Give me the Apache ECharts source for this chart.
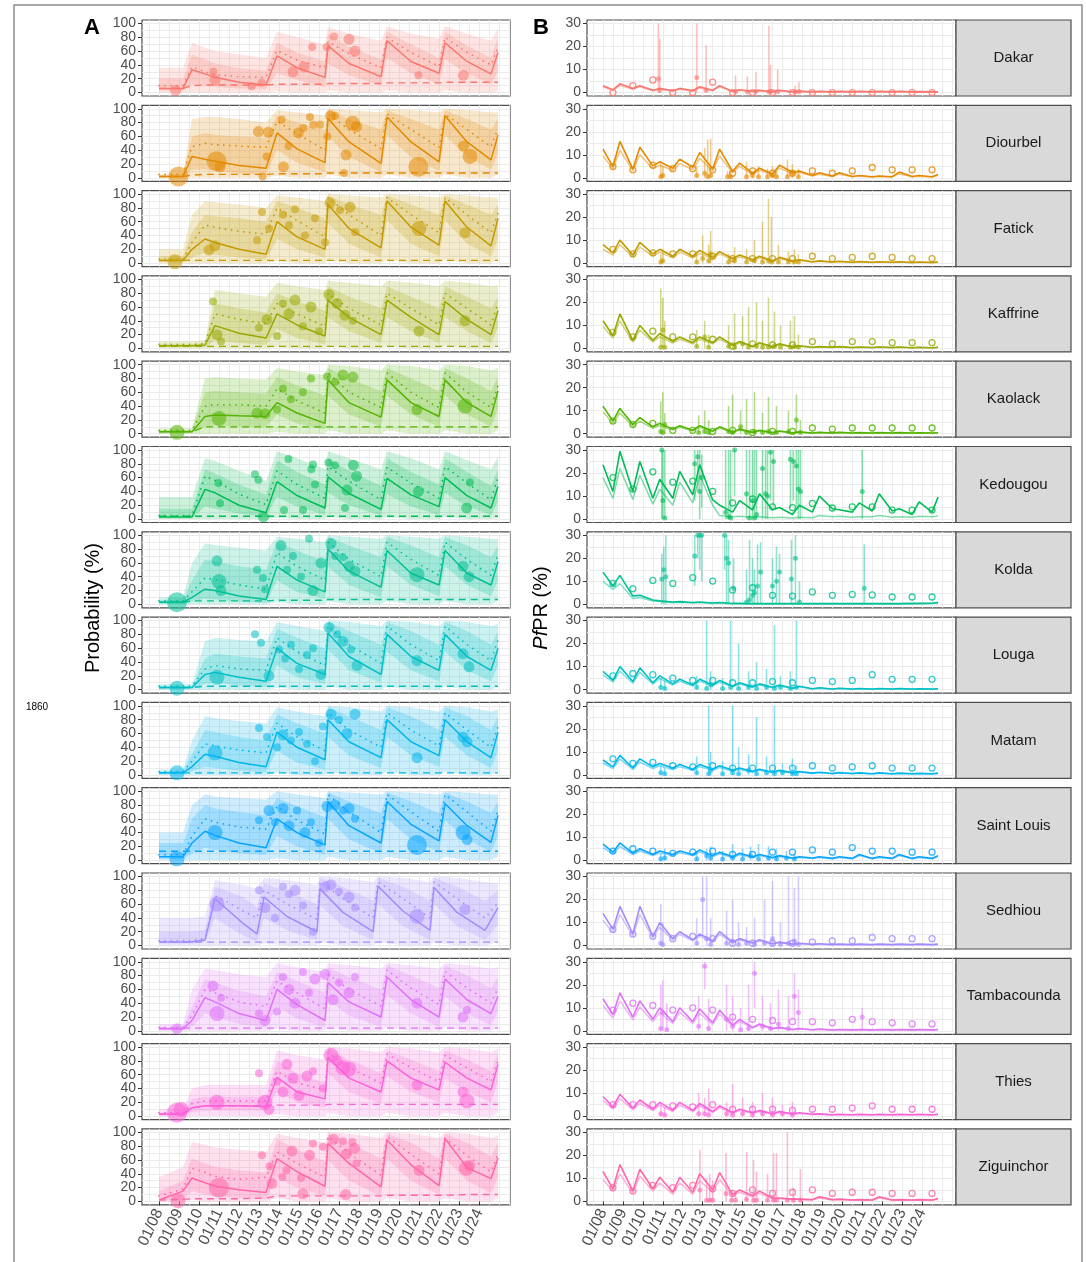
<!DOCTYPE html>
<html><head><meta charset="utf-8">
<script src="https://cdn.jsdelivr.net/npm/echarts@6/dist/echarts.min.js"></script>
<style>html,body{margin:0;padding:0;background:#fff}#c{width:1086px;height:1262px}</style>
</head><body><div id="c"></div>
<script>
const regions = ['Dakar','Diourbel','Fatick','Kaffrine','Kaolack','Kedougou','Kolda','Louga','Matam','Saint Louis','Sedhiou','Tambacounda','Thies','Ziguinchor'];
const palette = ['#F8766D','#E38900','#C49A00','#99A800','#53B400','#00BC56','#00C094','#00BFC4','#00B6EB','#06A4FF','#A58AFF','#DF70F8','#FB61D7','#FF66A8'];

const tickYears = [2008,2009,2010,2011,2012,2013,2014,2015,2016,2017,2018,2019,2020,2021,2022,2023,2024];
const gridYears = [2007.5,2008,2008.5,2009,2009.5,2010,2010.5,2011,2011.5,2012,2012.5,2013,2013.5,2014,2014.5,2015,2015.5,2016,2016.5,2017,2017.5,2018,2018.5,2019,2019.5,2020,2020.5,2021,2021.5,2022,2022.5,2023,2023.5,2024,2024.5,2025,2025.5];
const leftYTicks = [0,20,40,60,80,100];
const leftYGrid = [0,10,20,30,40,50,60,70,80,90,100];
const rightYTicks = [0,10,20,30];
const rightYGrid = [0,5,10,15,20,25,30];

// ---------- Panel A (probability) ----------
const leftT = [2008.0,2009.2,2009.65,2010.3,2010.8,2012.0,2013.35,2013.9,2014.9,2016.3,2016.45,2017.5,2019.1,2019.4,2020.6,2022.0,2022.3,2023.4,2024.6,2024.95];
const sedhiouT = [2008.0,2009.6,2010.3,2010.8,2011.3,2012.2,2012.9,2013.25,2014.4,2015.9,2016.05,2017.2,2018.7,2018.95,2020.2,2021.55,2021.75,2022.9,2024.3,2024.95];
const leftTimes = [leftT,leftT,leftT,leftT,leftT,leftT,leftT,leftT,leftT,leftT,sedhiouT,leftT,leftT,leftT];

const leftSolid = [
 [6,6,33,27,22,15,11,53,36,22,68,42,23,75,45,28,72,45,27,58],
 [2,2,31,27,24,18,14,65,42,22,86,52,21,88,52,23,90,52,26,62],
 [4,4,20,35,30,20,13,60,38,20,85,50,22,90,52,26,90,52,25,65],
 [4,4,4,5,33,22,15,50,34,18,70,45,20,70,45,20,68,42,20,55],
 [3,3,3,25,27,26,25,45,30,15,78,45,24,78,45,25,78,45,25,62],
 [3,3,3,43,38,20,9,54,34,16,61,37,14,59,35,18,60,34,16,47],
 [3,3,10,22,20,12,7,55,35,18,80,48,25,78,45,28,78,45,28,62],
 [3,3,3,22,25,18,12,60,38,22,82,48,22,80,48,28,80,48,28,60],
 [3,3,12,30,27,18,12,62,40,22,80,48,25,80,48,28,80,48,25,62],
 [5,5,25,42,36,25,18,60,40,22,85,50,25,85,52,28,82,50,26,65],
 [5,5,8,68,55,32,17,70,42,20,82,48,20,86,50,22,84,48,22,55],
 [3,3,15,48,42,25,15,60,38,15,70,42,20,78,45,20,75,45,25,50],
 [3,3,12,15,15,15,14,56,35,25,85,55,35,80,55,38,78,55,38,75],
 [2,15,34,27,22,17,13,62,43,22,84,55,21,89,53,23,91,49,33,63]
];
const leftDotted = [
 [10,10,37,30,26,23,22,61,47,36,74,56,36,80,58,38,80,58,40,65],
 [5,5,45,50,48,46,44,82,64,40,92,70,42,92,70,44,92,70,45,72],
 [6,6,30,55,52,46,42,80,62,38,95,70,40,95,70,44,95,70,44,72],
 [6,6,6,7,50,42,36,65,50,32,80,58,34,80,58,34,80,58,34,65],
 [5,5,5,40,42,42,40,65,48,30,88,60,38,88,60,38,88,60,38,70],
 [5,5,5,62,56,36,21,70,50,30,76,55,28,75,52,30,76,52,28,60],
 [5,5,18,38,36,28,22,75,55,35,90,65,40,90,65,42,90,65,42,72],
 [5,5,5,30,35,30,28,75,55,35,92,65,38,92,65,42,92,65,42,72],
 [5,5,20,45,42,36,32,75,55,35,90,65,40,90,65,42,90,65,40,70],
 [8,8,35,60,55,48,45,78,58,38,95,70,40,95,70,42,95,70,42,72],
 [7,7,10,72,65,50,40,80,60,38,92,68,40,92,68,40,92,68,40,62],
 [5,5,22,60,55,42,35,72,55,32,82,60,36,88,62,38,86,62,40,62],
 [5,5,18,22,22,22,22,65,48,38,92,70,48,90,70,50,88,70,50,80],
 [8,18,48,42,36,32,35,72,55,35,94,70,38,94,68,40,92,66,43,69]
];
const leftDashed = [
 [6,6,10,11,11,11,11,12,12,12,13,13,13,14,14,14,15,15,15,15],
 [2,2,4,5,5,5,5,6,6,6,7,7,7,7,7,7,7,7,7,7],
 [4,4,4,4,4,4,4,4,4,4,4,4,4,4,4,4,4,4,4,4],
 [3,3,3,3,3,3,3,3,3,3,3,3,3,3,3,3,3,3,3,3],
 [3,3,3,10,10,10,10,10,10,10,10,10,10,10,10,10,10,10,10,10],
 [4,4,4,4,4,4,4,4,4,4,4,4,4,4,4,4,4,4,4,4],
 [3,3,5,5,5,5,5,6,6,6,7,7,7,7,7,7,7,7,7,7],
 [3,3,3,5,5,5,5,5,5,5,5,5,5,5,5,5,5,5,5,5],
 [3,3,3,3,3,3,3,3,3,3,3,3,3,3,3,3,3,3,3,3],
 [13,13,13,13,13,13,13,13,13,13,13,13,13,13,13,13,13,13,13,13],
 [5,5,5,5,5,5,5,5,5,5,5,5,5,5,5,5,5,5,5,5],
 [4,4,4,4,4,4,4,4,4,4,4,4,4,4,4,4,4,4,4,4],
 [3,3,12,15,15,15,15,16,16,16,17,17,17,17,17,17,17,17,17,17],
 [2,3,4,4,4,4,5,8,8,8,8,8,8,9,9,9,9,10,10,10]
];
const outerLo = [
 [0,0,0,0,0,0,0,2,0,0,3,0,0,3,0,0,3,0,0,2],
 [0,0,0,0,0,0,0,3,0,0,5,0,0,5,0,0,5,0,0,5],
 [0,0,0,0,0,0,0,3,0,0,5,0,0,5,0,0,5,0,0,5],
 [0,0,0,0,0,0,0,2,0,0,3,0,0,3,0,0,3,0,0,3],
 [0,0,0,0,0,0,0,3,0,0,5,0,0,5,0,0,5,0,0,5],
 [0,0,0,0,0,0,0,2,0,0,3,0,0,3,0,0,3,0,0,2],
 [0,0,0,0,0,0,0,3,0,0,5,0,0,5,0,0,5,0,0,5],
 [0,0,0,0,0,0,0,3,0,0,5,0,0,5,0,0,5,0,0,5],
 [0,0,0,0,0,0,0,3,0,0,5,0,0,5,0,0,5,0,0,5],
 [0,0,0,0,0,0,0,3,0,0,5,0,0,5,0,0,5,0,0,5],
 [0,0,0,0,0,0,0,3,0,0,5,0,0,5,0,0,5,0,0,5],
 [0,0,0,0,0,0,0,3,0,0,5,0,0,5,0,0,5,0,0,5],
 [0,0,0,0,0,0,0,3,0,0,5,0,0,5,0,0,5,0,0,5],
 [0,0,2,0,0,0,0,5,0,0,5,0,0,5,0,0,5,0,0,5]
];
const outerHi = [
 [36,36,72,65,60,55,50,88,80,70,95,85,75,96,85,78,96,85,75,93],
 [5,5,85,88,88,85,80,98,95,90,100,98,95,100,98,95,100,98,95,95],
 [20,20,70,90,88,85,80,98,95,90,100,98,95,100,98,95,100,98,95,95],
 [10,10,10,12,85,80,75,95,90,85,98,95,90,98,95,90,98,95,90,92],
 [8,8,8,80,82,80,78,95,90,85,100,98,92,100,98,92,100,98,92,95],
 [32,32,32,88,84,70,55,98,88,72,98,88,72,98,88,72,98,85,72,90],
 [10,10,60,88,86,82,78,98,95,90,100,98,95,100,98,95,100,98,95,95],
 [8,8,8,70,75,72,70,98,92,85,100,98,92,100,98,92,100,98,92,95],
 [8,8,50,85,82,78,75,98,92,85,100,98,92,100,98,92,100,98,92,95],
 [40,40,80,95,92,90,88,100,95,90,100,98,95,100,98,95,100,98,95,95],
 [40,40,42,95,92,88,82,98,95,88,100,98,92,100,98,92,100,98,92,90],
 [10,10,60,90,88,82,78,98,92,85,98,95,90,98,95,90,98,95,90,92],
 [10,10,40,45,45,45,45,95,88,82,100,98,92,100,98,92,100,98,92,98],
 [35,50,86,82,78,75,72,98,92,85,100,98,92,100,98,92,100,98,92,95]
];
const innerLo = [
 [3,3,12,10,8,6,5,28,18,8,42,25,10,50,28,12,48,28,12,30],
 [1,1,12,12,10,6,5,40,22,8,60,30,8,62,30,10,62,30,12,35],
 [2,2,8,15,12,8,5,35,20,8,58,28,8,62,28,10,62,28,10,35],
 [2,2,2,2,12,8,5,28,15,6,45,25,8,45,25,8,45,25,8,30],
 [1,1,1,10,12,10,10,28,15,6,55,28,10,55,28,10,55,28,10,35],
 [1,1,1,18,15,8,3,32,18,6,38,20,5,36,18,6,38,18,6,25],
 [1,1,4,8,7,4,2,35,18,8,55,28,10,55,28,12,55,28,12,35],
 [1,1,1,8,10,6,4,35,18,8,58,28,10,55,28,12,55,28,12,35],
 [1,1,5,12,10,6,4,35,18,8,55,28,10,55,28,12,55,28,10,35],
 [2,2,10,18,15,10,8,35,20,8,60,30,10,60,30,12,58,30,12,35],
 [3,3,5,40,30,15,5,40,22,8,58,28,8,60,28,8,60,28,8,30],
 [1,1,5,25,20,10,5,35,18,5,45,22,6,52,25,6,50,25,8,28],
 [1,1,6,8,8,8,8,35,20,12,62,35,18,58,35,20,55,35,20,50],
 [1,3,15,10,8,5,3,35,20,8,60,30,8,62,30,10,62,30,12,35]
];
const innerHi = [
 [20,20,55,48,42,35,32,72,58,45,85,66,48,88,70,50,88,68,50,80],
 [3,3,60,65,62,60,58,90,80,68,98,85,70,98,85,70,98,85,70,85],
 [10,10,45,70,68,65,60,90,80,65,98,85,70,98,85,70,98,85,70,85],
 [6,6,6,8,65,58,52,80,68,55,90,75,58,90,75,58,90,75,58,75],
 [5,5,5,60,62,60,58,82,70,55,95,80,62,95,80,62,95,80,62,82],
 [15,15,15,72,66,50,35,85,68,50,88,70,48,88,68,50,88,68,48,72],
 [6,6,35,65,62,55,50,90,78,62,98,85,68,98,85,68,98,85,68,85],
 [5,5,5,45,52,48,45,88,75,60,98,85,65,98,85,65,98,85,65,85],
 [5,5,30,65,62,55,50,88,75,60,98,85,65,98,85,65,98,85,65,85],
 [25,25,60,80,75,70,65,90,78,62,98,85,68,98,85,68,98,85,68,85],
 [20,20,22,85,80,70,55,90,78,60,98,85,65,98,85,65,98,85,65,80],
 [5,5,35,75,70,58,50,85,72,55,92,78,60,95,80,62,95,80,62,78],
 [5,5,25,28,28,28,28,80,62,48,98,82,62,95,82,65,95,82,65,92],
 [15,30,62,55,50,45,42,90,75,58,98,85,62,98,85,62,98,85,65,85]
];
// survey bubbles: [year, probability %, size class]
const bubbles = [
 [[2008.83,3,3],[2010.72,30,2],[2010.8,18,3],[2012.63,9,2],[2013.13,14,2],[2014.7,30,3],[2015.25,37,3],[2015.66,66,2],[2016.38,66,2],[2016.75,81,2],[2017.5,77,3],[2017.8,60,3],[2020.97,25,2],[2023.22,25,3]],
 [[2008.97,2,5],[2010.88,24,5],[2011.05,16,3],[2012.97,67,3],[2013.47,66,3],[2013.18,2,2],[2013.38,31,2],[2014.13,84,2],[2014.22,16,3],[2014.47,46,2],[2014.97,65,3],[2015.22,72,2],[2015.55,88,2],[2015.72,77,2],[2016.05,77,2],[2016.42,60,2],[2016.58,90,3],[2016.8,90,2],[2017.35,33,3],[2017.25,7,2],[2017.68,79,4],[2017.88,74,3],[2020.97,16,5],[2023.22,46,3],[2023.55,31,4]],
 [[2008.8,2,4],[2010.5,19,3],[2010.8,25,3],[2012.9,33,2],[2013.15,74,2],[2013.5,50,2],[2014.2,70,2],[2014.5,55,2],[2014.8,78,2],[2015.3,40,2],[2015.8,65,2],[2016.3,30,2],[2016.55,87,3],[2017.05,77,2],[2017.55,81,3],[2017.8,45,2],[2021.0,50,4],[2023.3,44,3]],
 [[2010.7,68,2],[2010.9,20,3],[2011.1,10,2],[2013.0,30,2],[2013.4,42,3],[2013.9,18,2],[2014.2,65,2],[2014.5,50,3],[2014.8,70,3],[2015.2,32,2],[2015.6,60,3],[2016.0,25,2],[2016.5,78,3],[2016.9,65,3],[2017.3,48,3],[2017.7,40,2],[2021.0,25,3],[2023.3,40,3]],
 [[2008.9,2,4],[2011.0,22,4],[2012.9,30,3],[2013.3,29,3],[2013.9,35,2],[2014.2,65,2],[2014.6,50,2],[2015.2,60,2],[2015.6,80,2],[2016.4,83,2],[2016.8,75,2],[2017.2,85,3],[2017.7,82,3],[2020.9,35,3],[2023.3,40,4]],
 [[2010.97,52,2],[2011.05,23,2],[2012.8,65,2],[2012.97,57,2],[2013.22,3,3],[2014.25,13,2],[2014.47,87,2],[2015.2,13,2],[2015.62,72,2],[2015.7,79,2],[2015.8,50,2],[2016.47,82,2],[2016.8,78,2],[2017.72,78,3],[2017.88,62,3],[2017.4,42,3],[2017.3,16,2],[2020.97,40,3],[2023.55,53,2],[2023.38,16,3]],
 [[2008.9,3,5],[2010.9,63,3],[2011.0,33,4],[2011.1,20,3],[2012.9,50,2],[2013.2,38,2],[2013.3,22,2],[2014.1,85,3],[2014.4,50,2],[2014.7,70,2],[2015.1,40,2],[2015.5,95,2],[2015.7,20,3],[2016.1,60,3],[2016.6,88,3],[2016.8,70,2],[2017.2,68,2],[2017.5,55,3],[2017.8,48,3],[2020.9,43,4],[2023.2,55,3],[2023.5,40,3]],
 [[2008.9,2,4],[2010.9,18,4],[2012.8,80,2],[2013.1,68,2],[2013.5,20,3],[2014.0,58,2],[2014.3,45,2],[2014.6,65,2],[2015.0,30,2],[2015.4,50,2],[2015.7,60,2],[2016.1,22,3],[2016.5,90,3],[2016.9,80,2],[2017.2,70,3],[2017.6,58,2],[2017.9,35,3],[2020.9,42,3],[2023.2,52,3],[2023.5,33,3]],
 [[2008.9,3,4],[2010.8,32,4],[2013.0,68,2],[2013.4,55,2],[2013.9,40,2],[2014.2,58,3],[2014.6,50,2],[2015.0,62,2],[2015.4,45,2],[2015.8,20,2],[2016.2,70,2],[2016.6,88,3],[2017.0,80,2],[2017.4,60,3],[2017.8,88,3],[2020.9,25,3],[2023.2,55,3],[2023.4,48,3]],
 [[2008.9,2,4],[2010.8,40,4],[2013.0,58,2],[2013.5,72,3],[2013.8,55,2],[2014.2,75,3],[2014.5,50,3],[2014.9,72,2],[2015.3,40,3],[2015.6,55,2],[2016.0,25,2],[2016.4,78,3],[2016.8,80,3],[2017.2,72,2],[2017.5,75,3],[2017.8,60,2],[2020.9,22,5],[2023.2,40,4],[2023.4,30,3]],
 [[2010.9,60,4],[2013.0,80,2],[2013.3,55,3],[2013.8,40,2],[2014.2,85,2],[2014.5,75,2],[2014.8,80,3],[2015.2,58,2],[2015.7,20,2],[2016.3,85,3],[2016.6,88,3],[2017.0,78,2],[2017.5,70,3],[2017.8,55,2],[2020.9,42,4],[2023.3,52,3]],
 [[2008.9,3,3],[2010.7,65,3],[2010.9,25,4],[2011.1,48,2],[2013.0,25,2],[2013.3,15,3],[2013.9,28,2],[2014.2,78,2],[2014.5,60,3],[2014.8,40,3],[2015.2,85,2],[2015.5,55,2],[2015.8,75,3],[2016.3,82,3],[2016.7,45,3],[2017.0,70,2],[2017.5,55,3],[2017.8,78,2],[2020.9,40,3],[2023.2,20,3],[2023.4,30,2]],
 [[2008.9,5,5],[2009.1,10,4],[2010.9,20,4],[2013.0,62,2],[2013.3,20,4],[2013.5,10,3],[2013.9,50,2],[2014.2,35,3],[2014.4,75,3],[2014.7,55,3],[2015.0,30,3],[2015.4,58,3],[2015.7,65,2],[2016.2,40,2],[2016.6,88,4],[2016.9,80,3],[2017.2,70,4],[2017.5,68,4],[2020.9,45,3],[2023.2,35,3],[2023.4,22,4]],
 [[2008.95,1,4],[2011.0,20,5],[2013.15,67,2],[2013.53,51,2],[2013.65,26,3],[2014.17,35,2],[2014.37,45,2],[2014.65,73,3],[2015.1,34,2],[2015.53,67,3],[2015.7,84,2],[2015.2,11,3],[2016.2,79,2],[2016.73,90,3],[2017.2,87,2],[2017.37,69,3],[2017.33,10,3],[2017.67,86,2],[2017.78,77,3],[2017.87,55,2],[2021.0,45,3],[2023.37,48,4],[2023.53,52,3]]
];

// ---------- Panel B (PfPR) ----------
const rightT = [2008.0,2008.5,2008.85,2009.5,2009.85,2010.5,2010.85,2011.5,2011.85,2012.5,2012.85,2013.5,2013.85,2014.5,2014.85,2015.5,2015.85,2016.5,2016.85,2017.5,2017.85,2018.5,2018.85,2019.5,2019.85,2020.5,2020.85,2021.5,2021.85,2022.5,2022.85,2023.5,2023.85,2024.5,2024.8];
const rightDark = [
 [3,1.2,3.8,1.8,3,1,1.8,0.8,1.8,0.8,2.5,1,3,0.5,1.2,0.5,1,0.3,1,0.3,0.6,0.3,0.5,0.3,0.5,0.3,0.5,0.3,0.5,0.3,0.5,0.3,0.4,0.3,0.3],
 [12.5,4.9,15.8,3.8,13.3,5.2,7,4.2,8.1,4.6,11,3.8,12.5,2.8,6.4,2,4.2,1.7,5.5,2.4,3,1,2.2,0.8,2.2,0.6,1,0.5,0.8,0.5,2.5,0.6,1,0.5,1.5],
 [8,4.5,10,3.5,9,4,6,3,6,3,5.5,2.5,5,2,3.5,1.5,3,1,2.5,1,1.5,0.6,1,0.5,0.8,0.4,0.7,0.4,0.6,0.4,0.6,0.3,0.5,0.3,0.5],
 [12,5.5,15,3.5,10,3.5,6.5,3,5,2.5,5,2.5,5,1.5,3,1,2.5,0.8,2,0.6,1.2,0.5,0.8,0.5,0.8,0.4,0.6,0.4,0.6,0.4,0.6,0.3,0.5,0.3,0.5],
 [12,5.5,11,4,7,3,4.5,2,3.5,1.5,3.5,1.2,3,0.8,2,0.6,1.5,0.5,1.2,0.4,0.8,0.3,0.6,0.3,0.6,0.3,0.5,0.3,0.5,0.3,0.5,0.3,0.4,0.3,0.4],
 [23.6,12,29.4,12,25,9,17.3,9,20.7,10.5,23.6,8.3,6,3,8,4,11,4,5,2,6,3,10,4.5,4,3,7,3.5,11,3.5,4.5,2,7.5,3,9.5],
 [14,8,12.6,3.6,3.9,1.9,1.5,1,1.2,0.8,1,0.6,0.8,0.4,0.4,0.3,0.3,0.3,0.3,0.3,0.3,0.3,0.3,0.3,0.3,0.3,0.3,0.3,0.3,0.3,0.3,0.4,0.4,0.5,0.8],
 [8,4,10,3.5,9.5,3,6,2.5,4.5,2,4.5,2,4,1.5,3,1.2,2.5,1,2,0.6,1.5,0.4,0.8,0.3,0.6,0.3,0.5,0.3,0.5,0.3,0.5,0.3,0.4,0.3,0.4],
 [6.5,3.5,8.5,3,7,3.5,5,3,4.5,2.5,4.5,2.5,4,2,3,1.5,2.5,1.2,2,1,1.5,0.8,1.2,0.6,1,0.6,0.9,0.5,0.9,0.5,0.8,0.5,0.7,0.5,0.8],
 [7,3.5,7.5,3,5,2.5,4,2.5,4,2.5,4.5,2,3.5,1.5,3,1.5,2.5,1.2,2,1,1.5,1,1.5,0.8,1.5,0.8,2.5,0.8,1.5,0.8,2.5,0.8,1.5,0.8,2],
 [14,7,17,5,17,4,10,3,6,2.5,5,2,6,1.5,3,1.2,2.5,0.8,1.5,0.6,1,0.5,0.8,0.4,0.6,0.4,0.6,0.4,0.6,0.4,0.6,0.4,0.6,0.4,0.6],
 [14,7,16.5,6,13,5,10,4,10,4,9.5,3.5,9,2.5,5,1.5,3,1,1.5,0.6,1,0.5,0.8,0.4,0.6,0.4,0.6,0.4,0.6,0.4,0.6,0.4,0.6,0.4,0.6],
 [8.5,4,9.5,3.5,7,3,6,2.5,6,2.5,5.5,2,4.5,1.5,3,1.5,2.5,1,2,1,1.5,0.8,1,0.6,0.8,0.6,0.8,0.6,0.8,0.6,0.8,0.6,0.8,0.6,0.8],
 [13,5.5,16,4.5,14,5.5,10.5,4,10.5,4,12,5,12.5,3,5,2.5,4.5,1.5,1.5,1,1,0.8,2,0.8,1,0.6,0.8,0.6,2,0.6,0.8,0.6,0.8,0.6,1.3]
];
const rightLight = [
 [2.5,1,3,1.5,2.5,0.8,1.5,0.6,1.5,0.6,2,0.8,2.5,0.4,1,0.4,0.8,0.2,0.8,0.2,0.5,0.2,0.4,0.2,0.4,0.2,0.4,0.2,0.4,0.2,0.4,0.2,0.3,0.2,0.2],
 [9.5,4,12,3,10,4,5.5,3.3,6.2,3.6,8.5,3,9.5,2.2,5,1.5,3.3,1.3,4.2,1.8,2.3,0.8,1.6,0.6,1.6,0.5,0.8,0.4,0.6,0.4,1.8,0.5,0.7,0.4,1.1],
 [6,3.5,8,2.8,7,3,4.8,2.3,4.8,2.3,4.2,2,4,1.5,2.7,1.1,2.3,0.8,1.9,0.7,1.1,0.5,0.8,0.4,0.6,0.3,0.5,0.3,0.5,0.3,0.5,0.2,0.4,0.2,0.4],
 [9.5,4.5,12,2.8,8,2.8,5,2.3,4,2,4,2,4,1.2,2.3,0.8,2,0.6,1.6,0.5,0.9,0.4,0.6,0.4,0.6,0.3,0.5,0.3,0.5,0.3,0.5,0.2,0.4,0.2,0.4],
 [9.5,4.5,9,3.2,5.5,2.4,3.6,1.6,2.8,1.2,2.8,1,2.4,0.6,1.6,0.5,1.2,0.4,1,0.3,0.6,0.2,0.5,0.2,0.5,0.2,0.4,0.2,0.4,0.2,0.4,0.2,0.3,0.2,0.3],
 [18,9,22,8.5,19,6.5,13,6,16,7,19,6,1.5,1,1.2,0.8,1,0.6,0.8,0.5,0.8,0.6,1.5,1,1.2,0.8,1,1,1.5,0.8,1,0.8,1.2,1,1.3],
 [10,6.5,9,2.5,3,1.4,1.2,0.7,0.9,0.6,0.8,0.4,0.6,0.3,0.3,0.2,0.2,0.2,0.2,0.2,0.2,0.2,0.2,0.2,0.2,0.2,0.2,0.2,0.2,0.2,0.2,0.3,0.3,0.4,0.6],
 [6.5,3.2,8,2.8,7.5,2.4,4.8,2,3.6,1.6,3.6,1.6,3.2,1.2,2.4,1,2,0.8,1.6,0.5,1.2,0.3,0.6,0.2,0.5,0.2,0.4,0.2,0.4,0.2,0.4,0.2,0.3,0.2,0.3],
 [5.2,2.8,7,2.4,5.6,2.8,4,2.4,3.6,2,3.6,2,3.2,1.6,2.4,1.2,2,1,1.6,0.8,1.2,0.6,1,0.5,0.8,0.5,0.7,0.4,0.7,0.4,0.6,0.4,0.6,0.4,0.6],
 [5.5,2.8,6,2.4,4,2,3.2,2,3.2,2,3.6,1.6,2.8,1.2,2.4,1.2,2,1,1.6,0.8,1.2,0.8,1.2,0.6,1.2,0.6,2,0.6,1.2,0.6,2,0.6,1.2,0.6,1.6],
 [11,5.5,13.5,4,13.5,3.2,8,2.4,4.8,2,4,1.6,4.8,1.2,2.4,1,2,0.6,1.2,0.5,0.8,0.4,0.6,0.3,0.5,0.3,0.5,0.3,0.5,0.3,0.5,0.3,0.5,0.3,0.5],
 [11,5.5,13,4.8,10.4,4,8,3.2,8,3.2,7.6,2.8,7.2,2,4,1.2,2.4,0.8,1.2,0.5,0.8,0.4,0.6,0.3,0.5,0.3,0.5,0.3,0.5,0.3,0.5,0.3,0.5,0.3,0.5],
 [6.8,3.2,7.6,2.8,5.6,2.4,4.8,2,4.8,2,4.4,1.6,3.6,1.2,2.4,1.2,2,0.8,1.6,0.8,1.2,0.6,0.8,0.5,0.6,0.5,0.6,0.5,0.6,0.5,0.6,0.5,0.6,0.5,0.6],
 [9.5,4.5,12,3.5,11,4.5,8,3.2,8,3.2,9,4,9.5,2.4,4,2,3.5,1.2,1.2,0.8,0.8,0.6,1.5,0.6,0.8,0.5,0.6,0.5,1.5,0.5,0.6,0.5,0.6,0.5,1]
];
const circleT = [2008.5,2009.5,2010.5,2011.5,2012.5,2013.5,2014.5,2015.5,2016.5,2017.5,2018.5,2019.5,2020.5,2021.5,2022.5,2023.5,2024.5];
const rightCircles = [
 [0,3,5.5,0,0,4.5,0,0,0,0,0,0,0,0,0,0,0],
 [4.9,3.5,5.5,4,4,3.5,2,3,2,2,3,2,3,4.5,3.5,3.5,3.5],
 [6,4,4.5,4,4,3,2,2,2,2,3,2,2.5,3,2.5,2,2],
 [7,5,7.5,5,5,4,1,2,1.5,1.5,3,2,3,3,2.5,2.5,2.5],
 [5.5,4,4.5,1.5,1.5,1,1.5,0.5,1,1,2.5,2,2.5,2.5,2.5,2.5,2.5],
 [18,13,20.5,16,16.5,12,7,8.7,5.3,5,6.8,4.8,5.3,5.3,3.9,3.9,3.9],
 [9.1,6.8,10.4,9.1,11.6,10.1,6.2,7.2,3.9,3.6,5.4,3.9,4.3,4.1,3.2,3.2,3.2],
 [6,7,6.5,5,4,4,3,3,3.5,3,4,3.5,4,6.5,4.5,4.5,4.5],
 [7,5,5.5,4,3.5,4,3,3,3,3,4,3,3.5,4,3,3,3],
 [4,5,4,3,3.5,4,2.5,2.5,3.5,3.5,4.5,3.5,5.5,4,4,3.5,3.5],
 [7,5,4,3,4,3,1,1,1,1,1.5,2,2,3.5,3,3,3],
 [9,12,11,9,10,9,6,5,4.5,4,4,3.5,5,4,3.5,3,3],
 [5,5,5,4.5,4,5,3,3,3,2.5,3,3,3.5,4.5,3,3,3],
 [6,4.5,7,6,7,5.5,3.5,5,3.5,4,5,3.5,4,4,3.5,3.5,3.5]
];
// survey estimates: [year, PfPR %, lower, upper]
const surveyPts = [
 [[2010.78,6,0,30],[2010.85,1,0,23.5],[2012.7,6.5,0,30],[2013.17,1,0,20.5],[2014.65,0.3,0,7.5],[2015.24,0.3,0,7],[2015.67,0.5,0,9],[2016.32,0.3,0,29],[2016.4,0.5,0,12],[2016.76,0.3,0,10],[2017.63,0.3,0,3],[2017.83,0.3,0,4.5]],
 [[2010.9,0.5,0,7],[2011.0,1,0,5],[2012.7,1,0,5],[2013.1,2,0,13],[2013.25,0.5,0,16.5],[2013.4,1,0,17],[2014.25,0.5,0,3],[2014.4,0.5,0,3],[2015.2,0.5,0,7],[2015.5,1,0,3],[2015.8,0.5,0,5],[2016.25,0.5,0,4],[2016.5,1,0,5],[2016.7,0.5,0,3],[2017.25,0.5,0,8],[2017.5,2,0,6],[2017.8,0.5,0,4]],
 [[2010.9,0.5,0,4],[2011.0,1,0,6],[2012.7,0.5,0,5],[2013.0,2,0,12],[2013.3,1,0,8],[2013.4,4,0,14],[2014.3,0.5,0,4],[2014.6,1,0,7],[2015.2,0.5,0,6],[2015.6,1,0,10],[2016.0,0.5,0,18],[2016.3,1,0,28],[2016.45,0.5,0,20],[2016.8,0.5,0,8],[2017.3,0.5,0,5],[2017.6,0.5,0,6],[2017.8,0.5,0,4]],
 [[2010.9,0.5,0,26],[2011.0,8,0,22],[2011.1,0.5,0,12],[2012.7,1,0,8],[2013.1,5,0,12],[2013.3,0.5,0,6],[2014.3,1,0,10],[2014.6,0.5,0,15],[2015.0,2,0,14],[2015.3,0.5,0,18],[2015.7,1,0,20],[2016.0,0.5,0,12],[2016.3,0.5,0,22],[2016.6,1,0,16],[2016.9,0.5,0,10],[2017.4,0.5,0,12],[2017.6,1,0,14],[2017.8,0.5,0,6]],
 [[2010.9,1,0,14],[2011.0,0.5,0,18],[2011.1,4,0,9],[2012.8,0.5,0,8],[2013.1,1,0,10],[2013.3,0.5,0,6],[2014.3,1,0,12],[2014.5,0.5,0,17],[2014.9,3,0,10],[2015.2,0.5,0,15],[2015.6,1,0,18],[2016.0,0.5,0,9],[2016.3,1,0,16],[2016.7,0.5,0,12],[2017.3,1,0,10],[2017.7,6,0,17],[2017.9,0.5,0,6]],
 [[2010.95,30,0,30],[2011.0,8,0,30],[2011.1,0.5,0,30],[2012.6,24,8,30],[2012.75,27,12,30],[2012.85,12,0,30],[2012.95,18,5,28],[2014.15,3,0,30],[2014.3,1,0,30],[2014.4,0.5,0,30],[2014.6,30,10,30],[2015.2,11,0,30],[2015.35,0.5,0,30],[2015.5,8,0,30],[2015.6,0.5,0,30],[2015.7,2,0,30],[2016.0,22,0,30],[2016.15,11,0,30],[2016.25,10,0,30],[2016.4,29,8,30],[2016.55,25,5,30],[2017.4,26,5,30],[2017.55,25,8,30],[2017.7,23,5,30],[2017.8,13,0,30],[2017.9,12,0,30],[2021.0,12,0,30]],
 [[2010.95,11,0,22],[2011.05,15,0,25],[2011.15,12,0,30],[2012.6,21,8,30],[2012.75,30,20,30],[2012.85,30,15,30],[2012.95,30,10,30],[2014.1,30,15,30],[2014.2,20,0,30],[2014.3,18,0,28],[2014.55,7,0,20],[2015.2,1,0,15],[2015.35,2,0,28],[2015.5,4,0,20],[2015.6,5,0,15],[2015.75,8,0,26],[2015.9,14,0,27],[2016.5,8,0,20],[2016.7,10,0,25],[2016.85,14,0,22],[2017.45,11,0,28],[2017.65,20,0,30],[2017.85,1,0,10],[2021.1,7,0,26]],
 [[2010.9,1,0,5],[2011.1,0.5,0,4],[2012.7,1,0,6],[2013.2,0.5,0,30],[2013.4,2,0,8],[2014.0,0.5,0,5],[2014.4,1,0,30],[2014.8,0.5,0,20],[2015.3,1,0,8],[2015.7,0.5,0,12],[2016.2,1,0,9],[2016.6,0.5,0,28],[2016.9,1,0,6],[2017.4,0.5,0,8],[2017.7,1,0,30]],
 [[2010.9,1,0,4],[2011.1,0.5,0,3],[2012.7,1,0,8],[2013.3,0.5,0,30],[2013.4,2,0,10],[2014.0,0.5,0,6],[2014.5,1,0,30],[2014.8,0.5,0,12],[2015.3,2,0,9],[2015.7,0.5,0,25],[2016.2,1,0,8],[2016.6,0.5,0,30],[2017.0,1,0,5],[2017.5,0.5,0,7],[2017.7,0.5,0,4]],
 [[2010.9,0.5,0,3],[2011.1,1,0,5],[2012.7,0.5,0,4],[2013.2,2,0,5],[2013.4,1,0,6],[2014.0,0.5,0,4],[2014.5,1,0,7],[2015.0,0.5,0,5],[2015.4,2,0,6],[2015.8,0.5,0,7],[2016.3,1,0,6],[2016.7,0.5,0,5],[2017.2,1,0,4],[2017.6,0.5,0,3]],
 [[2010.9,1,0,18],[2011.0,0.5,0,10],[2012.7,1,0,12],[2013.0,20,5,30],[2013.2,3,0,30],[2013.4,0.5,0,12],[2014.2,1,0,15],[2014.5,2,0,20],[2014.8,0.5,0,10],[2015.2,1,0,8],[2015.6,0.5,0,12],[2016.1,1,0,20],[2016.5,3,0,28],[2016.9,0.5,0,10],[2017.3,1,0,30],[2017.6,2,0,25],[2017.8,0.5,0,30]],
 [[2010.9,1,0,20],[2011.0,8,0,22],[2011.2,0.5,0,12],[2012.8,2,0,15],[2013.1,28,18,30],[2013.3,1,0,14],[2014.2,5,0,20],[2014.5,2,0,15],[2014.9,0.5,0,10],[2015.3,1,0,20],[2015.6,25,10,30],[2016.0,2,0,15],[2016.4,1,0,12],[2016.8,3,0,18],[2017.3,1,0,15],[2017.6,15,5,25],[2017.8,8,0,18],[2021.0,6,0,10]],
 [[2010.9,1,0,5],[2011.1,0.5,0,4],[2012.8,1,0,10],[2013.1,1,0,8],[2013.3,0.5,0,12],[2014.2,1,0,6],[2014.5,0.5,0,14],[2015.0,1,0,8],[2015.5,0.5,0,6],[2016.0,1,0,10],[2016.5,0.5,0,8],[2017.0,1,0,5],[2017.5,0.5,0,6]],
 [[2012.86,5,0,22.5],[2013.2,0.5,0,10],[2013.35,0.5,0,12],[2013.5,0.5,0,9],[2014.17,3.5,0,21],[2014.45,0.5,0,5],[2014.65,0.5,0,4],[2015.2,1,0,21.5],[2015.55,0.5,0,18],[2015.7,0.5,0,13],[2016.25,0.5,0,12],[2016.55,0.5,0,21],[2016.7,0.5,0,21],[2017.25,0.5,0,30],[2017.55,0.5,0,6],[2017.9,0.5,0,14]]
];

// ---------- build chart ----------
const FONT = '"Liberation Sans", Arial, Helvetica, sans-serif';
const bubbleDiam = [0, 5, 8, 11, 15, 20];
const layout = { top0: 20, step: 85.3, h: 76, lLeft: 142, lWidth: 368, rLeft: 587, rWidth: 369, stripW: 115 };
const grids = [], xAxis = [], yAxis = [], series = [], graphic = [];

function pair(ts, vs) { return ts.map((t, k) => [t, vs[k]]); }

function addAxes(gridIndex, xmin, xmax, ymin, ymax, yTicks, yGrid, bottom) {
  xAxis.push({ type: 'value', gridIndex, min: xmin, max: xmax, position: 'bottom',
    axisLine: { show: false }, splitLine: { show: false },
    axisTick: { show: bottom, customValues: tickYears, length: 4, lineStyle: { color: '#333', width: 1 } },
    axisLabel: { show: bottom, customValues: tickYears, rotate: 65, margin: 5, color: '#4d4d4d', fontSize: 15.5, fontFamily: FONT,
      formatter: v => '01/' + String(Math.round(v)).slice(2) } });
  xAxis.push({ type: 'value', gridIndex, min: xmin, max: xmax, position: 'top',
    axisLine: { show: false }, axisLabel: { show: false },
    axisTick: { show: false, customValues: gridYears },
    splitLine: { show: true, lineStyle: { color: '#EBEBEB', width: 1 } } });
  yAxis.push({ type: 'value', gridIndex, min: ymin, max: ymax, position: 'left',
    axisLine: { show: false }, splitLine: { show: false },
    axisTick: { show: true, customValues: yTicks, length: 4, lineStyle: { color: '#333', width: 1 } },
    axisLabel: { show: true, customValues: yTicks, margin: 6, color: '#4d4d4d', fontSize: 14, fontFamily: FONT } });
  yAxis.push({ type: 'value', gridIndex, min: ymin, max: ymax, position: 'right',
    axisLine: { show: false }, axisLabel: { show: false },
    axisTick: { show: false, customValues: yGrid },
    splitLine: { show: true, lineStyle: { color: '#EBEBEB', width: 1 } } });
}

function bandSeries(xi, yi, ts, lo, hi, color, op) {
  const data = ts.map((t, k) => [t, lo[k], hi[k]]);
  return { type: 'custom', xAxisIndex: xi, yAxisIndex: yi, data, silent: true, clip: true, z: 1,
    encode: { x: 0, y: [1, 2] },
    renderItem: (params, api) => {
      if (params.dataIndex !== 0) return null;
      const pts = [];
      for (let k = 0; k < data.length; k++) pts.push(api.coord([data[k][0], data[k][2]]));
      for (let k = data.length - 1; k >= 0; k--) pts.push(api.coord([data[k][0], data[k][1]]));
      return { type: 'polygon', shape: { points: pts }, style: { fill: color, opacity: op } };
    } };
}

regions.forEach((name, i) => {
  const color = palette[i];
  const top = layout.top0 + i * layout.step;
  const bottom = i === regions.length - 1;
  const gl = 2 * i, gr = 2 * i + 1;
  grids.push({ left: layout.lLeft, top, width: layout.lWidth, height: layout.h, show: true, backgroundColor: '#fff', borderColor: '#4d4d4d', borderWidth: 1.2 });
  grids.push({ left: layout.rLeft, top, width: layout.rWidth, height: layout.h, show: true, backgroundColor: '#fff', borderColor: '#4d4d4d', borderWidth: 1.2 });
  addAxes(gl, 2007.15, 2025.55, -5, 105, leftYTicks, leftYGrid, bottom);
  addAxes(gr, 2007.2, 2025.7, -1.5, 31.5, rightYTicks, rightYGrid, bottom);
  const lx = 4 * i, rx = 4 * i + 2;
  const ts = leftTimes[i];
  series.push(bandSeries(lx, lx, ts, outerLo[i], outerHi[i], color, 0.2));
  series.push(bandSeries(lx, lx, ts, innerLo[i], innerHi[i], color, 0.22));
  series.push({ type: 'line', xAxisIndex: lx, yAxisIndex: lx, data: pair(ts, leftDashed[i]), showSymbol: false, silent: true, z: 3,
    lineStyle: { color, width: 1.4, type: [7, 5] } });
  series.push({ type: 'line', xAxisIndex: lx, yAxisIndex: lx, data: pair(ts, leftDotted[i]), showSymbol: false, silent: true, z: 3,
    lineStyle: { color, width: 1.7, type: [0.1, 6], cap: 'round' } });
  series.push({ type: 'line', xAxisIndex: lx, yAxisIndex: lx, data: pair(ts, leftSolid[i]), showSymbol: false, silent: true, z: 3,
    lineStyle: { color, width: 1.5 } });
  series.push({ type: 'scatter', xAxisIndex: lx, yAxisIndex: lx, data: bubbles[i], silent: true, z: 4,
    symbolSize: d => bubbleDiam[d[2]], itemStyle: { color, opacity: 0.55 } });
  series.push({ type: 'line', xAxisIndex: rx, yAxisIndex: rx, data: pair(rightT, rightLight[i]), showSymbol: false, silent: true, z: 3,
    lineStyle: { color, width: 1.5, opacity: 0.5 } });
  series.push({ type: 'custom', xAxisIndex: rx, yAxisIndex: rx, data: surveyPts[i], silent: true, z: 2, clip: true,
    encode: { x: 0, y: [2, 3] },
    renderItem: (params, api) => {
      const p1 = api.coord([api.value(0), api.value(2)]);
      const p2 = api.coord([api.value(0), api.value(3)]);
      return { type: 'line', shape: { x1: p1[0], y1: p1[1], x2: p2[0], y2: p2[1] }, style: { stroke: color, lineWidth: 1.6, opacity: 0.45 } };
    } });
  series.push({ type: 'scatter', xAxisIndex: rx, yAxisIndex: rx, data: surveyPts[i].map(d => [d[0], d[1]]), silent: true, z: 3,
    symbolSize: 5, itemStyle: { color, opacity: 0.6 } });
  series.push({ type: 'line', xAxisIndex: rx, yAxisIndex: rx, data: pair(rightT, rightDark[i]), showSymbol: false, silent: true, z: 4,
    lineStyle: { color, width: 1.6 } });
  series.push({ type: 'scatter', xAxisIndex: rx, yAxisIndex: rx, data: pair(circleT, rightCircles[i]), silent: true, z: 5,
    symbol: 'circle', symbolSize: 6, itemStyle: { color: 'rgba(255,255,255,0)', borderColor: color, borderWidth: 1.3 } });
  graphic.push({ type: 'rect', silent: true, z: 10, shape: { x: layout.rLeft + layout.rWidth, y: top, width: layout.stripW, height: layout.h },
    style: { fill: '#D9D9D9', stroke: '#4d4d4d', lineWidth: 1.2 } });
  graphic.push({ type: 'text', silent: true, z: 11, x: layout.rLeft + layout.rWidth + layout.stripW / 2, y: top + layout.h / 2,
    style: { text: name, fill: '#1A1A1A', font: '15px ' + FONT, align: 'center', verticalAlign: 'middle' } });
});

graphic.push({ type: 'rect', silent: true, z: 0, shape: { x: 14, y: 5, width: 1068, height: 1270 }, style: { fill: 'none', stroke: '#8c8c8c', lineWidth: 1.5 } });
graphic.push({ type: 'text', silent: true, x: 92, y: 28, style: { text: 'A', fill: '#000', font: 'bold 22px ' + FONT, align: 'center', verticalAlign: 'middle' } });
graphic.push({ type: 'text', silent: true, x: 541, y: 28, style: { text: 'B', fill: '#000', font: 'bold 22px ' + FONT, align: 'center', verticalAlign: 'middle' } });
graphic.push({ type: 'text', silent: true, x: 37, y: 707, style: { text: '1860', fill: '#000', font: '10px ' + FONT, align: 'center', verticalAlign: 'middle' } });
graphic.push({ type: 'text', silent: true, x: 93, y: 608, rotation: Math.PI / 2,
  style: { text: 'Probability (%)', fill: '#000', font: '20px ' + FONT, align: 'center', verticalAlign: 'middle' } });
graphic.push({ type: 'text', silent: true, x: 541, y: 608, rotation: Math.PI / 2,
  style: { text: '{i|Pf}PR (%)', fill: '#000', font: '20px ' + FONT, align: 'center', verticalAlign: 'middle',
    rich: { i: { fontStyle: 'italic', fontSize: 20, fontFamily: FONT, fill: '#000' } } } });

const chart = echarts.init(document.getElementById('c'), null, { renderer: 'canvas', width: 1086, height: 1262 });
chart.setOption({ animation: false, backgroundColor: '#fff', grid: grids, xAxis, yAxis, series, graphic });
</script></body></html>
